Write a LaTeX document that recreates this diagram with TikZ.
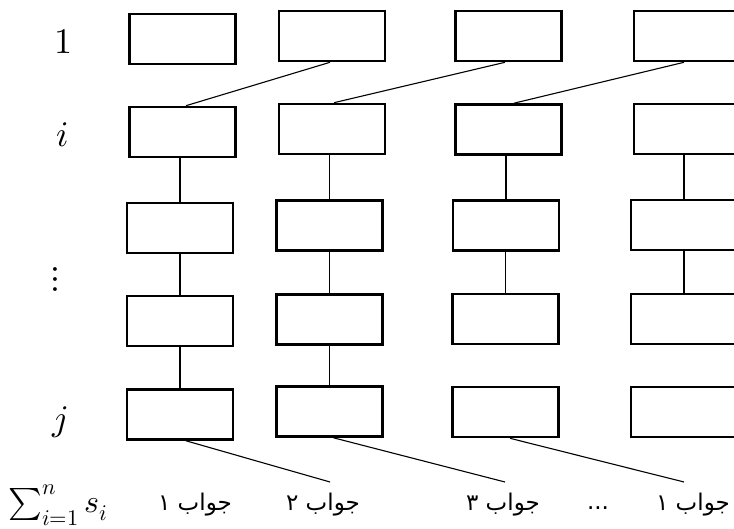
\documentclass[tikz,border=0pt]{standalone}
\usepackage{fontspec}
\usepackage{unicode-math}
\setmathfont{Latin Modern Math}
\newfontfamily\arabicfont[Script=Arabic]{DejaVu Sans}
\TeXXeTstate=1
\tikzset{
  cell/.style={draw, line width=2.6pt, minimum width=106pt, minimum height=50pt, inner sep=0pt},
  link/.style={line width=1.1pt},
  mlabel/.style={font=\fontsize{36}{42}\selectfont, inner sep=0pt},
  alabel/.style={font=\arabicfont\fontsize{23}{28}\selectfont, inner sep=0pt}
}
\begin{document}
\begin{tikzpicture}[x=1pt,y=-1pt]
\clip (0,0) rectangle (734,529);
\fill[white] (0,0) rectangle (734,529);
% column 1
\node[cell] (a1) at (182.5,39) {};
\node[cell] (ai) at (182.5,132) {};
\node[cell] (a3) at (180,228) {};
\node[cell] (a4) at (180,321) {};
\node[cell] (aj) at (180,414.5) {};
% column 2
\node[cell] (b1) at (332,36) {};
\node[cell] (bi) at (332,129) {};
\node[cell] (b3) at (329.5,225.5) {};
\node[cell] (b4) at (329.5,319.5) {};
\node[cell] (bj) at (329.5,411.5) {};
% column 3
\node[cell] (c1) at (508.5,36) {};
\node[cell] (ci) at (508.5,129.5) {};
\node[cell] (c3) at (506,225.5) {};
\node[cell] (c4) at (505.5,319) {};
\node[cell] (cj) at (505.5,412) {};
% column 4
\node[cell] (d1) at (687,36) {};
\node[cell] (di) at (687,129) {};
\node[cell] (d3) at (684,225) {};
\node[cell] (d4) at (684,319) {};
\node[cell] (dj) at (684,412) {};
% diagonal links top
\draw[link] ([xshift=3.5pt]ai.north) -- ([xshift=-2pt]b1.south);
\draw[link] ([xshift=2pt]bi.north) -- ([xshift=-3.5pt]c1.south);
\draw[link] ([xshift=5.5pt]ci.north) -- ([xshift=-3pt]d1.south);
% vertical links
\draw[link] (a3.north) -- (a3.north |- ai.south);
\draw[link] (a4.north) -- (a4.north |- a3.south);
\draw[link] (aj.north) -- (aj.north |- a4.south);
\draw[link] (b3.north) -- (b3.north |- bi.south);
\draw[link] (b4.north) -- (b4.north |- b3.south);
\draw[link] (bj.north) -- (bj.north |- b4.south);
\draw[link] (c3.north) -- (c3.north |- ci.south);
\draw[link] (c4.north) -- (c4.north |- c3.south);
\draw[link] (d3.north) -- (d3.north |- di.south);
\draw[link] (d4.north) -- (d4.north |- d3.south);
% bottom links
\coordinate (ea) at (330,482);
\coordinate (eb) at (505,482);
\coordinate (ec) at (684,482);
\draw[link] ([xshift=6pt]aj.south) -- (ea);
\draw[link] ([xshift=4pt]bj.south) -- (eb);
\draw[link] ([xshift=4.5pt]cj.south) -- (ec);
% row labels
\node[mlabel] (l1) at (63,42) {$1$};
\node[mlabel] (li) at (63,135) {$i$};
\node[mlabel] (ld) at (55,280) {$\vdots$};
\node[mlabel] (lj) at (60,422) {$j$};
\node[mlabel, font=\fontsize{32}{38}\selectfont] (ls) at (58,505) {$\sum_{i=1}^{n} s_i$};
% answer labels
\node[alabel] (s1) at (195,505) {\beginR جواب ۱\endR};
\node[alabel] (s2) at (323,505) {\beginR جواب ۲\endR};
\node[alabel] (s3) at (503,505) {\beginR جواب ۳\endR};
\node[alabel] (sd) at (598,508) {...};
\node[alabel] (sn) at (693,505) {\beginR جواب ۱\endR};
\end{tikzpicture}
\end{document}
